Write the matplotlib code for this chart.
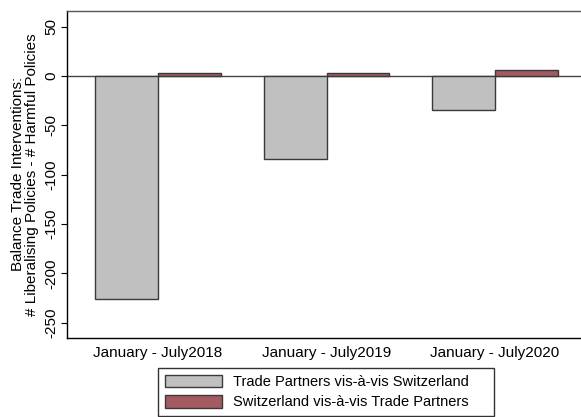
import matplotlib
matplotlib.use("Agg")
import matplotlib.pyplot as plt
import numpy as np

plt.rcParams['font.family'] = ['Liberation Sans', 'DejaVu Sans']

categories = ["January - July2018", "January - July2019", "January - July2020"]
partners_vs_ch = [-226, -84, -35]
ch_vs_partners = [3, 3, 6]
series_labels = ["Trade Partners vis-à-vis Switzerland", "Switzerland vis-à-vis Trade Partners"]
yticks = [50, 0, -50, -100, -150, -200, -250]

fig = plt.figure(figsize=(5.81, 4.17), dpi=100)
ax = fig.add_axes([0.1148, 0.1902, 0.8852, 0.7841])

x = np.arange(len(categories))
w = 0.374
edge = '#3a3a3a'
b1 = ax.bar(x - w/2, partners_vs_ch, width=w, color='#c0c0c0', edgecolor=edge, linewidth=1.0, label=series_labels[0], zorder=2)
b2 = ax.bar(x + w/2, ch_vs_partners, width=w, color='#a35a60', edgecolor=edge, linewidth=1.0, label=series_labels[1], zorder=2)
ax.axhline(0, color='#444444', linewidth=1.0, zorder=1)

ax.set_xlim(-0.5425, 2.511)
ax.set_ylim(-265, 66)
ax.set_yticks(yticks)
ax.set_yticklabels([str(t) for t in yticks], rotation=90, va='center', fontsize=11)
ax.set_xticks(x)
ax.set_xticklabels(categories, fontsize=11)
ax.tick_params(axis='x', length=0, pad=6)
ax.tick_params(axis='y', length=4, width=0.8, pad=2)
ax.spines['right'].set_visible(False)
for s in ['left', 'top', 'bottom']:
    ax.spines[s].set_linewidth(1.0)
    ax.spines[s].set_color('black')
ax.spines['top'].set_color('#555555')

ax.set_ylabel("Balance Trade Interventions:\n# Liberalising Policies - # Harmful Policies", fontsize=11, linespacing=1.0, labelpad=4)

x0 = 158 / 581
wd = (494 - 158) / 581
ytop = 1 - 368 / 417
leg = fig.legend(handles=[b1, b2], labels=series_labels, loc='upper left',
                 bbox_to_anchor=(x0, ytop - 0.13, wd, 0.13), mode='expand', ncol=1,
                 frameon=True, fancybox=False,
                 edgecolor='black', fontsize=10.5, handlelength=3.97, handleheight=0.96,
                 borderpad=0.45, labelspacing=0.42, handletextpad=0.75, borderaxespad=0.0)
leg.get_frame().set_linewidth(1.0)

fig.savefig("out.png", dpi=100)
